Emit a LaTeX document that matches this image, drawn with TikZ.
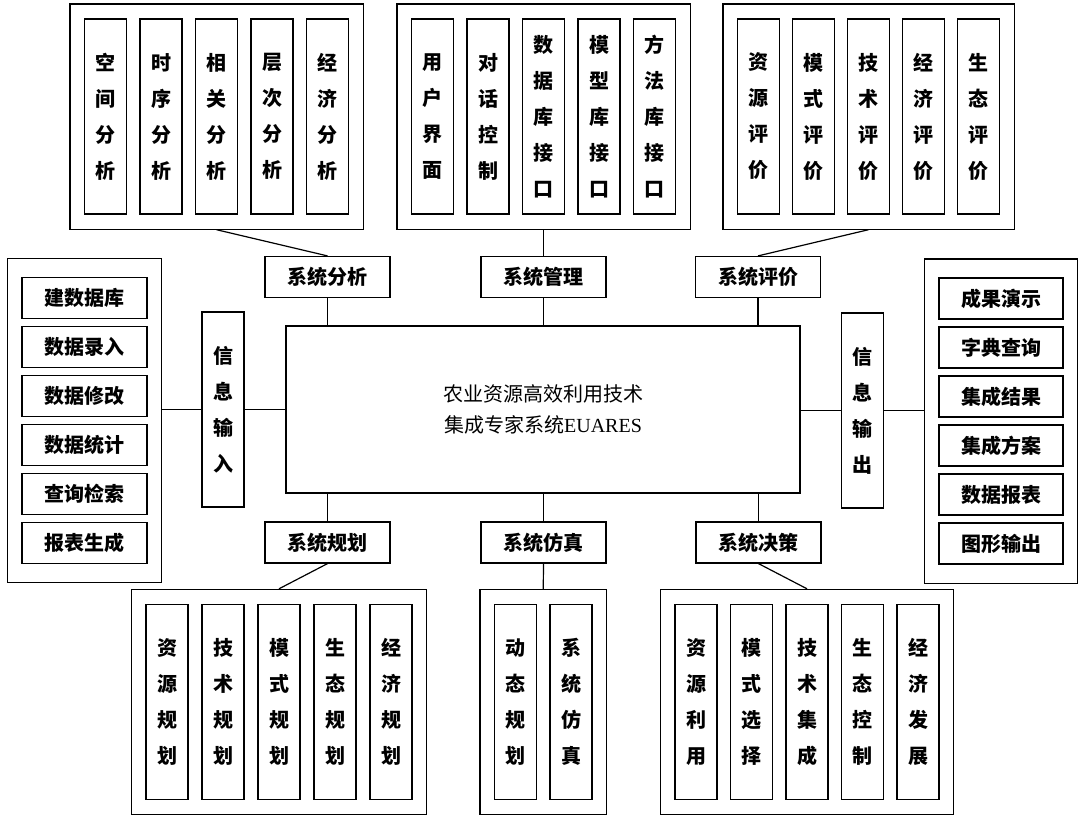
\documentclass[tikz,border=0pt]{standalone}
\usepackage{fontspec}
\newfontfamily\cjk{Noto Sans CJK SC}
\newfontfamily\latin{Liberation Serif}
\usetikzlibrary{fit}

\begin{document}
\begin{tikzpicture}[x=1pt, y=-1pt,
    every node/.style={draw, line width=1.2pt, inner sep=0pt, font=\cjk\bfseries\fontsize{20}{36}\selectfont},
    column/.style={minimum width=42pt, minimum height=195pt, align=center},
    tag/.style={minimum width=125pt, minimum height=41pt},
    group/.style={inner xsep=14pt, inner ysep=14.5pt},
    listbox/.style={inner xsep=14pt, inner ysep=18.5pt},
    link/.style={line width=1.2pt},
    ]
  \useasboundingbox (0,0) rectangle (1078,814);
  \node[minimum width=514pt, minimum height=167pt, align=center,
        font=\cjk\fontsize{20}{31}\selectfont] (core) at (543,409.5)
        {农业资源高效利用技术\\集成专家系统{\latin EUARES}};

  \node[tag] (analyse) at (327.5,277) {系统分析};
  \node[tag] (manage) at (543.5,277) {系统管理};
  \node[tag] (evaluate) at (758,277) {系统评价};
  \node[tag] (plan) at (327.5,542.5) {系统规划};
  \node[tag] (simulate) at (543.5,542.5) {系统仿真};
  \node[tag] (decide) at (758.5,542.5) {系统决策};

  \node[column] (input) at (223,409.5) {信\\息\\输\\入};
  \node[column] (output) at (862.5,410.5) {信\\息\\输\\出};

  \foreach \txt [count=\i] in {{空\\间\\分\\析},{时\\序\\分\\析},{相\\关\\分\\析},{层\\次\\分\\析},{经\\济\\分\\析}}
    \node[column] (ana\i) at ({105.5+55.5*(\i-1)},116.5) {\txt};
  \node[group, fit=(ana1)(ana5)] (anabox) {};

  \foreach \txt [count=\i] in {{用\\户\\界\\面},{对\\话\\控\\制},{数\\据\\库\\接\\口},{模\\型\\库\\接\\口},{方\\法\\库\\接\\口}}
    \node[column] (mgmt\i) at ({432.5+55.5*(\i-1)},116.5) {\txt};
  \node[group, fit=(mgmt1)(mgmt5)] (mgmtbox) {};

  \foreach \txt [count=\i] in {{资\\源\\评\\价},{模\\式\\评\\价},{技\\术\\评\\价},{经\\济\\评\\价},{生\\态\\评\\价}}
    \node[column] (eval\i) at ({758.5+55*(\i-1)},116.5) {\txt};
  \node[group, fit=(eval1)(eval5)] (evalbox) {};

  \foreach \txt [count=\i] in {{资\\源\\规\\划},{技\\术\\规\\划},{模\\式\\规\\划},{生\\态\\规\\划},{经\\济\\规\\划}}
    \node[column] (plan\i) at ({167+56*(\i-1)},702) {\txt};
  \node[group, fit=(plan1)(plan5)] (planbox) {};

  \foreach \txt [count=\i] in {{动\\态\\规\\划},{系\\统\\仿\\真}}
    \node[column] (sim\i) at ({515.5+55.5*(\i-1)},702) {\txt};
  \node[group, fit=(sim1)(sim2)] (simbox) {};

  \foreach \txt [count=\i] in {{资\\源\\利\\用},{模\\式\\选\\择},{技\\术\\集\\成},{生\\态\\控\\制},{经\\济\\发\\展}}
    \node[column] (dec\i) at ({696+55.5*(\i-1)},702) {\txt};
  \node[group, fit=(dec1)(dec5)] (decbox) {};

  \foreach \txt [count=\i] in {建数据库,数据录入,数据修改,数据统计,查询检索,报表生成}
    \node[tag] (in\i) at (84.5,{298+49*(\i-1)}) {\txt};
  \node[listbox, fit=(in1)(in6)] (inbox) {};

  \foreach \txt [count=\i] in {成果演示,字典查询,集成结果,集成方案,数据报表,图形输出}
    \node[tag, minimum width=124pt] (out\i) at (1001,{298.5+49*(\i-1)}) {\txt};
  \node[listbox, fit=(out1)(out6)] (outbox) {};

  \draw[link] (anabox.south) -- (analyse.north);
  \draw[link] (mgmtbox.south) -- (manage.north);
  \draw[link] (evalbox.south) -- (evaluate.north);
  \draw[link] (analyse.south) -- (analyse.south |- core.north);
  \draw[link] (manage.south) -- (manage.south |- core.north);
  \draw[link] (evaluate.south) -- (evaluate.south |- core.north);
  \draw[link] (plan.north) -- (plan.north |- core.south);
  \draw[link] (simulate.north) -- (simulate.north |- core.south);
  \draw[link] (decide.north) -- (decide.north |- core.south);
  \draw[link] (plan.south) -- (planbox.north);
  \draw[link] (simulate.south) -- (simbox.north);
  \draw[link] (decide.south) -- (decbox.north);
  \draw[link] (input.west) -- (input.west -| inbox.east);
  \draw[link] (input.east) -- (input.east -| core.west);
  \draw[link] (output.west) -- (output.west -| core.east);
  \draw[link] (output.east) -- (output.east -| outbox.west);
\end{tikzpicture}
\end{document}
